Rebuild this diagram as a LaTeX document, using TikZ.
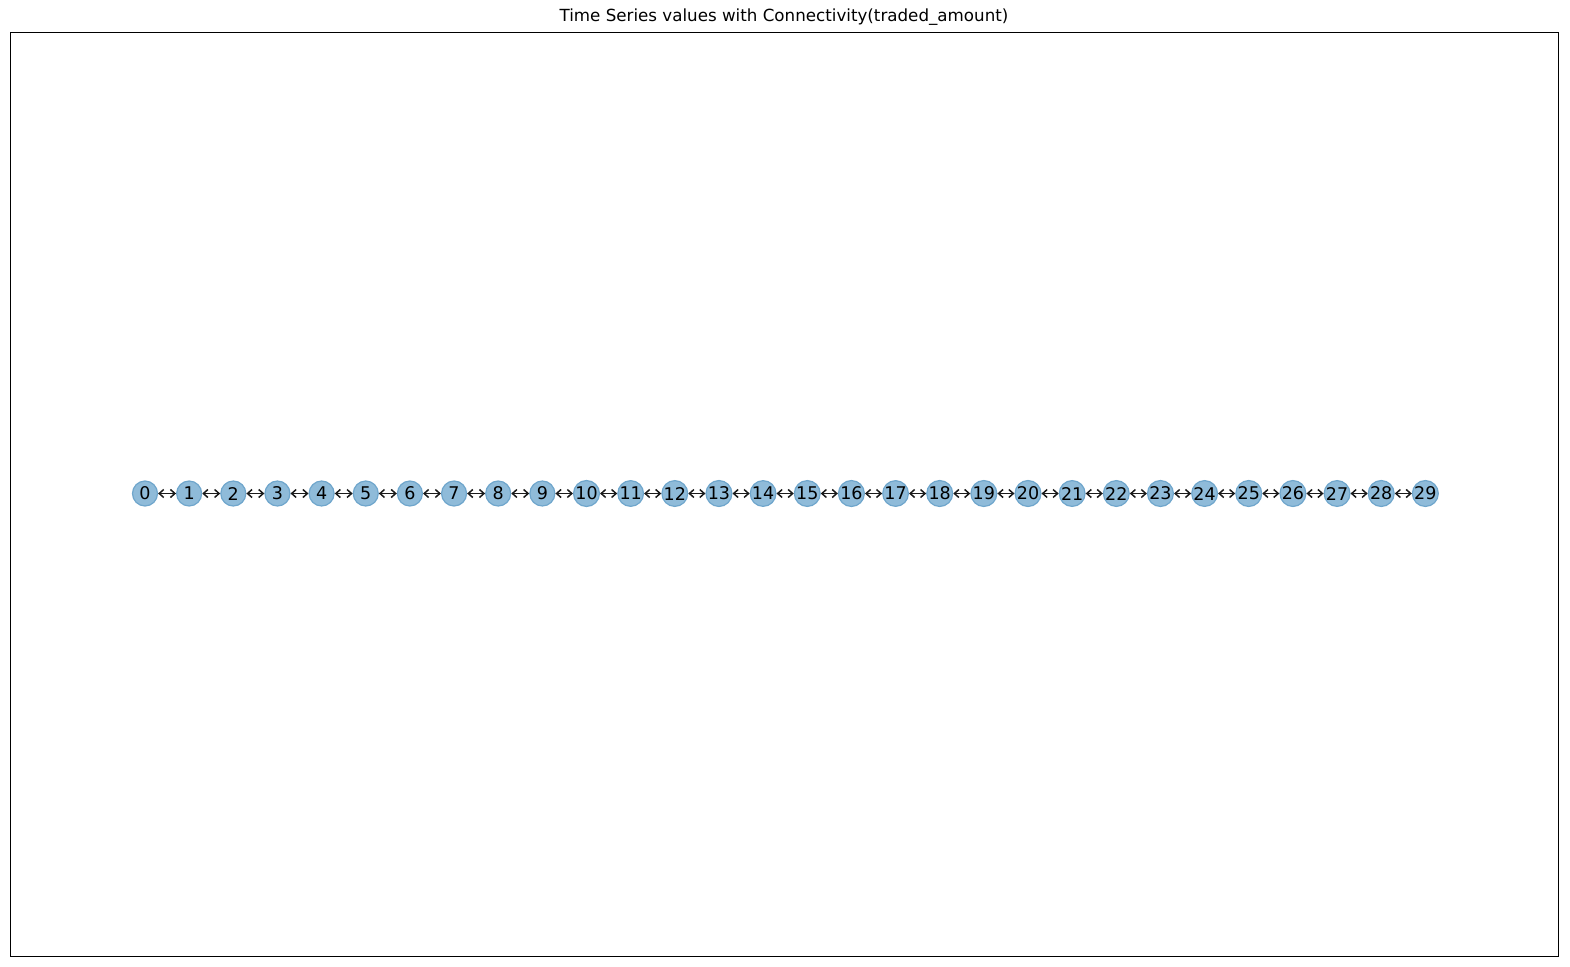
\documentclass[tikz,border=0pt]{standalone}
\usepackage{fontspec}
\setmainfont{DejaVu Sans}
\usetikzlibrary{arrows.meta}
\definecolor{nodefill}{HTML}{8FBBD9}
\definecolor{nodeedge}{HTML}{6FA6CC}
\definecolor{edgecol}{HTML}{1A1A1A}
\tikzset{
  tsnode/.style={circle, fill=nodefill, draw=nodeedge, line width=1.2pt, minimum size=25pt, inner sep=0pt, font=\fontsize{17.5}{19}\selectfont, text=black},
  tsedge/.style={edgecol, line width=1.5pt, {Straight Barb[length=4.5pt,width=8pt]}-{Straight Barb[length=4.5pt,width=8pt]}},
  frame/.style={draw=black, line width=1.2pt}
}
\begin{document}
\begin{tikzpicture}[x=1pt,y=-1pt]
\useasboundingbox (0,0) rectangle (1570,966);
\fill[white] (0,0) rectangle (1570,966);
\draw[frame] (10.5,32.5) rectangle (1558.5,956.5);
\node[font=\fontsize{16.7}{18}\selectfont] (title) at (784,17) {Time Series values with Connectivity(traded\_amount)};
\foreach \i in {0,...,29} {
  \node[tsnode] (n\i) at ({145+44.15*\i},493.5) {\i};
}
\foreach \i [evaluate=\i as \j using int(\i+1)] in {0,...,28} {
  \draw[tsedge] (n\i) -- (n\j);
}
\end{tikzpicture}
\end{document}
